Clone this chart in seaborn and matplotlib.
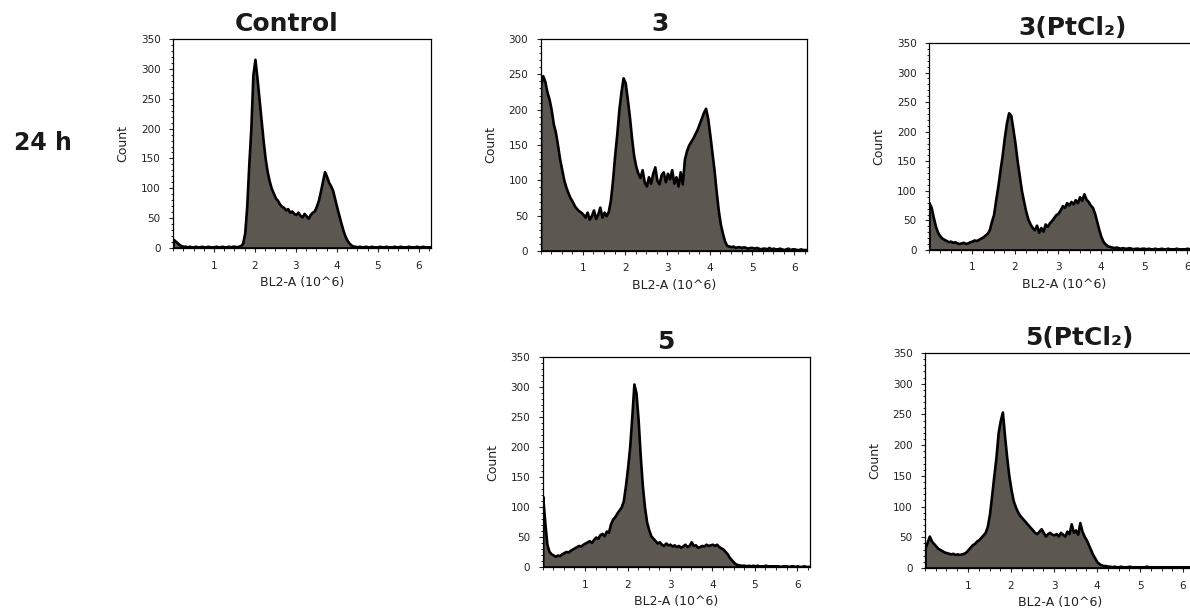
import numpy as np
import pandas as pd
import seaborn as sns
import matplotlib
matplotlib.use("Agg")
import matplotlib.pyplot as plt
from matplotlib.ticker import MultipleLocator

# Cell-cycle DNA histograms (BL2-A channel, 24 h treatment), counts per 0.05 bin from 0 to 6.3
BIN_WIDTH = 0.05

control = [
    15, 12, 9, 6, 4, 3, 3, 2, 3, 2, 2, 3, 2, 2, 3, 2, 2, 3, 2, 2,
    2, 3, 2, 2, 3, 2, 2, 3, 2, 3, 3, 2, 3, 4, 8, 25, 70, 140, 200, 290,
    316, 285, 250, 215, 180, 150, 128, 112, 100, 92, 84, 80, 74, 70, 68, 64, 66, 60, 62, 58,
    56, 60, 55, 52, 58, 54, 50, 56, 60, 62, 70, 80, 95, 112, 128, 120, 110, 104, 96, 82,
    68, 55, 42, 30, 20, 13, 8, 5, 3, 3, 2, 3, 2, 2, 3, 2, 2, 3, 2, 2,
    2, 3, 2, 2, 3, 2, 2, 2, 3, 2, 2, 3, 2, 2, 2, 3, 2, 2, 2, 3, 2, 2, 3, 2, 2, 2, 2,
]

cmpd3 = [
    235, 248, 240, 225, 215, 200, 180, 168, 150, 130, 115, 100, 90, 82, 75, 70, 64, 60, 57, 55,
    52, 48, 55, 45, 50, 58, 46, 52, 62, 48, 55, 50, 56, 72, 100, 135, 165, 200, 225, 245,
    238, 215, 190, 160, 135, 120, 110, 104, 115, 98, 92, 105, 96, 110, 119, 100, 95, 108, 112, 98,
    110, 102, 115, 96, 105, 92, 112, 95, 130, 142, 150, 155, 160, 166, 172, 180, 188, 196, 202, 188,
    165, 140, 115, 85, 58, 38, 25, 14, 8, 7, 6, 7, 5, 6, 6, 5, 6, 5, 4, 5,
    5, 4, 5, 4, 3, 4, 4, 3, 5, 3, 4, 3, 3, 4, 3, 2, 3, 4, 2, 3, 3, 2, 2, 3, 2, 2, 2,
]

cmpd3_pt = [
    80, 72, 55, 40, 30, 24, 20, 18, 16, 14, 15, 13, 14, 12, 11, 12, 13, 11, 12, 14,
    15, 17, 16, 18, 20, 22, 25, 28, 34, 48, 60, 85, 108, 135, 160, 190, 215, 232, 228, 205,
    180, 150, 125, 100, 82, 65, 52, 44, 38, 34, 42, 30, 38, 32, 44, 40, 46, 50, 55, 60,
    62, 68, 75, 72, 80, 76, 82, 78, 85, 80, 90, 84, 95, 86, 82, 76, 72, 62, 48, 34,
    22, 14, 10, 7, 6, 5, 4, 5, 4, 3, 4, 3, 3, 4, 3, 2, 3, 3, 2, 3,
    3, 2, 3, 2, 2, 3, 2, 2, 3, 2, 2, 3, 2, 2, 2, 3, 2, 2, 2, 2, 3, 2, 2, 2, 2, 2, 2,
]

cmpd5 = [
    118, 75, 38, 26, 22, 20, 18, 20, 19, 22, 24, 26, 25, 28, 30, 32, 34, 36, 35, 38,
    40, 42, 44, 41, 46, 50, 48, 54, 56, 52, 60, 58, 72, 80, 84, 90, 95, 100, 110, 135,
    165, 200, 250, 305, 290, 245, 185, 135, 100, 75, 62, 52, 48, 44, 40, 42, 38, 36, 40, 37,
    38, 35, 37, 34, 36, 33, 35, 38, 34, 36, 42, 36, 37, 33, 34, 36, 35, 38, 36, 37,
    38, 36, 38, 34, 32, 30, 26, 22, 16, 12, 8, 5, 4, 3, 3, 3, 2, 3, 2, 3,
    2, 3, 2, 2, 2, 3, 2, 2, 2, 2, 2, 2, 1, 2, 2, 2, 1, 2, 2, 1, 2, 1, 1, 2, 1, 1, 1,
]

cmpd5_pt = [
    32, 42, 52, 44, 40, 36, 32, 30, 28, 26, 25, 24, 23, 24, 22, 23, 22, 23, 24, 26,
    30, 34, 38, 40, 44, 46, 50, 54, 58, 68, 88, 118, 150, 180, 220, 240, 254, 215, 180, 150,
    128, 110, 100, 92, 86, 82, 78, 74, 70, 66, 62, 58, 56, 60, 64, 58, 52, 56, 58, 55,
    54, 56, 52, 58, 55, 52, 60, 56, 72, 58, 62, 55, 74, 60, 52, 46, 38, 30, 22, 16,
    10, 7, 5, 4, 4, 3, 3, 2, 3, 2, 2, 3, 2, 2, 2, 3, 2, 2, 2, 2,
    2, 2, 2, 3, 2, 2, 2, 2, 2, 2, 2, 2, 2, 2, 2, 2, 2, 2, 2, 2, 2, 2, 2, 2, 2, 2, 2,
]

titles = ["Control", "3", "3(PtCl₂)", "5", "5(PtCl₂)"]
series = [control, cmpd3, cmpd3_pt, cmpd5, cmpd5_pt]
y_max = [350, 300, 350, 350, 350]
x_ticks = [1, 2, 3, 4, 5, 6]
row_label = "24 h"

# panel placement in figure coordinates [left, bottom, width, height], title x in axes fraction
panel_rects = [
    [0.1454, 0.5967, 0.2168, 0.3398],
    [0.4543, 0.5919, 0.2239, 0.3447],
    [0.7807, 0.5935, 0.2277, 0.3366],
    [0.4560, 0.0780, 0.2247, 0.3415],
    [0.7773, 0.0764, 0.2277, 0.3496],
]
title_x = [0.44, 0.45, 0.53, 0.46, 0.57]

sns.set_style("ticks")
plt.rcParams["font.family"] = ["DejaVu Sans"]

fig = plt.figure(figsize=(11.9, 6.15), dpi=100)
fill_color = "#5c5751"

for rect, title, tx, counts, ymax in zip(panel_rects, titles, title_x, series, y_max):
    ax = fig.add_axes(rect)
    n = len(counts)
    centers = np.round(np.arange(n) * BIN_WIDTH, 3)
    df = pd.DataFrame({"bl2a": centers, "count": counts})
    sns.histplot(data=df, x="bl2a", weights="count", binwidth=BIN_WIDTH,
                 binrange=(-BIN_WIDTH / 2, centers[-1] + BIN_WIDTH / 2),
                 element="poly", fill=True, color=fill_color, edgecolor="black",
                 linewidth=1.9, alpha=1.0, ax=ax)
    ax.set_xlim(0, 6.3)
    ax.set_ylim(0, ymax)
    ax.set_xticks(x_ticks)
    ax.set_yticks(np.arange(0, ymax + 1, 50))
    ax.xaxis.set_minor_locator(MultipleLocator(0.25))
    ax.yaxis.set_minor_locator(MultipleLocator(10))
    ax.tick_params(which="major", length=3, width=0.8, labelsize=7.5,
                   labelcolor="#222222", pad=6)
    ax.tick_params(which="minor", length=1.8, width=0.7)
    for side in ["top", "right", "left", "bottom"]:
        ax.spines[side].set_visible(True)
        ax.spines[side].set_linewidth(0.9)
        ax.spines[side].set_color("black")
    ax.set_xlabel("BL2-A (10^6)", fontsize=9, color="#222222", labelpad=4)
    ax.set_ylabel("Count", fontsize=9, color="#222222", labelpad=8)
    ax.text(tx, 1.015, title, transform=ax.transAxes, ha="center", va="bottom",
            fontsize=18, fontweight="bold", color="#1a1a1a")

fig.text(43 / 1190, 1 - 143 / 615, row_label, ha="center", va="center",
         fontsize=17, fontweight="bold", color="#1a1a1a")

fig.savefig("out.png", dpi=100)
